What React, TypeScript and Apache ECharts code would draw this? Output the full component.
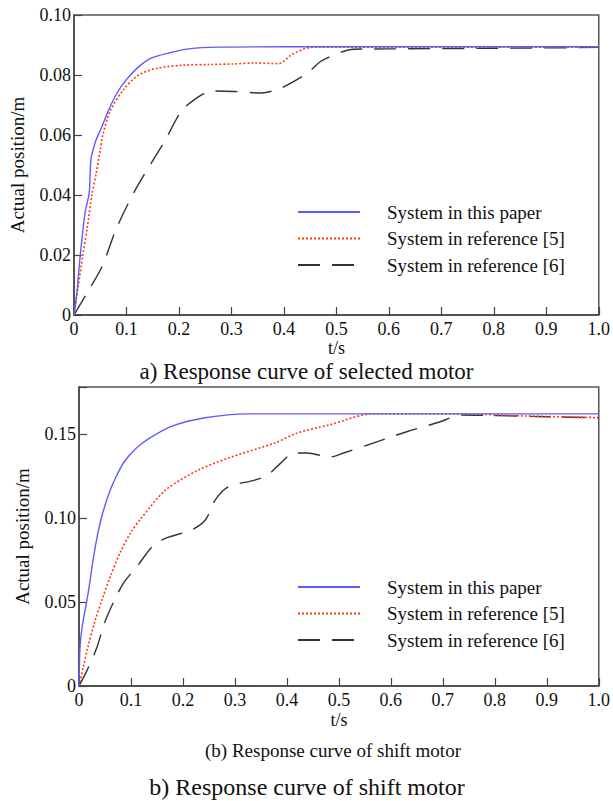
import React, { useEffect, useRef } from "react";
import * as echarts from "echarts";

// ---- Chart a) selected motor ----
const T_A_PAPER = [0, 0.006, 0.012, 0.021, 0.029, 0.031, 0.033, 0.042, 0.053, 0.066, 0.082, 0.099, 0.123, 0.148, 0.18, 0.218, 0.275, 0.4, 0.6, 0.8, 1.0];
const Y_A_PAPER = [0, 0.0083, 0.02, 0.034, 0.0407, 0.048, 0.0527, 0.0583, 0.0627, 0.0683, 0.074, 0.0783, 0.0827, 0.0857, 0.0873, 0.0887, 0.0893, 0.0894, 0.0894, 0.0894, 0.0894];

const T_A_REF5 = [0, 0.008, 0.017, 0.026, 0.034, 0.042, 0.05, 0.055, 0.069, 0.094, 0.123, 0.16, 0.21, 0.26, 0.306, 0.344, 0.39, 0.414, 0.44, 0.457, 0.6, 0.8, 1.0];
const Y_A_REF5 = [0, 0.0095, 0.02, 0.03, 0.04, 0.047, 0.055, 0.06, 0.068, 0.075, 0.08, 0.0823, 0.0833, 0.0835, 0.0837, 0.084, 0.0838, 0.0867, 0.0888, 0.0893, 0.0893, 0.0893, 0.0893];

const T_A_REF6 = [0, 0.028, 0.053, 0.082, 0.12, 0.173, 0.205, 0.237, 0.262, 0.306, 0.357, 0.395, 0.433, 0.452, 0.47, 0.509, 0.533, 0.6, 0.8, 1.0];
const Y_A_REF6 = [0, 0.0083, 0.016, 0.0293, 0.0427, 0.058, 0.068, 0.0727, 0.0747, 0.0745, 0.074, 0.0757, 0.0793, 0.0817, 0.0845, 0.0876, 0.0886, 0.0887, 0.0889, 0.0892];

// ---- Chart b) shift motor ----
const T_B_PAPER = [0, 0.002, 0.006, 0.0146, 0.019, 0.028, 0.036, 0.043, 0.05, 0.06, 0.072, 0.087, 0.11, 0.135, 0.179, 0.243, 0.325, 0.5, 0.7, 1.0];
const Y_B_PAPER = [0, 0.0232, 0.035, 0.05, 0.058, 0.0768, 0.0905, 0.1, 0.1075, 0.1165, 0.125, 0.1335, 0.1415, 0.1474, 0.1547, 0.1597, 0.162, 0.162, 0.162, 0.162];

const T_B_REF5 = [0, 0.008, 0.017, 0.03, 0.045, 0.06, 0.08, 0.1, 0.12, 0.167, 0.23, 0.293, 0.376, 0.42, 0.48, 0.566, 0.65, 0.74, 0.85, 1.0];
const Y_B_REF5 = [0, 0.011, 0.023, 0.038, 0.052, 0.065, 0.08, 0.0915, 0.1, 0.1167, 0.1286, 0.1363, 0.1446, 0.1506, 0.1553, 0.162, 0.162, 0.162, 0.1608, 0.1598];

const T_B_REF6 = [0, 0.015, 0.034, 0.049, 0.068, 0.085, 0.1, 0.116, 0.141, 0.167, 0.217, 0.243, 0.262, 0.287, 0.338, 0.363, 0.388, 0.414, 0.439, 0.483, 0.509, 0.566, 0.629, 0.692, 0.737, 0.8, 0.9, 1.0];
const Y_B_REF6 = [0, 0.009, 0.0226, 0.0375, 0.051, 0.061, 0.067, 0.073, 0.083, 0.088, 0.093, 0.0988, 0.1107, 0.1185, 0.1226, 0.1256, 0.1327, 0.1387, 0.1387, 0.1363, 0.1387, 0.1446, 0.1512, 0.157, 0.1613, 0.161, 0.1603, 0.1597];

const SERIES_NAMES = ["System in this paper", "System in reference [5]", "System in reference [6]"];
const CAPTION_A = "a) Response curve of selected motor";
const CAPTION_B_SMALL = "(b) Response curve of shift motor";
const CAPTION_B = "b) Response curve of shift motor";
const X_NAME = "t/s";
const Y_NAME = "Actual position/m";

const zip = (t: number[], y: number[]) => t.map((v, i) => [v, y[i]]);

const FONT = "'Liberation Serif', 'Times New Roman', serif";
const COLORS = ["#5c5cff", "#ff3a10", "#333333"];
const LINE_TYPES: any[] = ["solid", [2, 2], [22, 12]];

export default function App() {
  const ref = useRef<HTMLDivElement>(null);
  useEffect(() => {
    if (!ref.current) return;
    const chart = echarts.init(ref.current, undefined, { renderer: "svg" });

    const xAxisBase = (gridIndex: number, nameGap: number, labelMargin: number) => ({
      type: "value",
      gridIndex,
      min: 0,
      max: 1,
      interval: 0.1,
      name: X_NAME,
      nameLocation: "middle",
      nameGap,
      nameTextStyle: { fontFamily: FONT, fontSize: 18, color: "#111" },
      axisLine: { show: true, lineStyle: { color: "#444", width: 1.5 } },
      axisTick: { show: true, inside: true, length: 8, lineStyle: { color: "#444", width: 1.2 } },
      axisLabel: {
        fontFamily: FONT,
        fontSize: 18,
        color: "#111",
        margin: labelMargin,
        formatter: (v: number) => (v === 0 ? "0" : v.toFixed(1)),
      },
      splitLine: { show: false },
    });

    const yAxisBase = (gridIndex: number, max: number, interval: number, nameGap: number) => ({
      type: "value",
      gridIndex,
      min: 0,
      max,
      interval,
      name: Y_NAME,
      nameLocation: "middle",
      nameGap,
      nameTextStyle: { fontFamily: FONT, fontSize: 19, color: "#111" },
      axisLine: { show: true, lineStyle: { color: "#444", width: 1.5 } },
      axisTick: { show: true, inside: true, length: 8, lineStyle: { color: "#444", width: 1.2 } },
      axisLabel: {
        fontFamily: FONT,
        fontSize: 18,
        color: "#111",
        margin: 3,
        formatter: (v: number) => {
          if (v === 0) return "0";
          const k = Math.round(v / interval);
          if (Math.abs(k * interval - v) > 1e-9) return "";
          return v.toFixed(2);
        },
      },
      splitLine: { show: false },
    });

    const mk = (name: string, idx: number, data: number[][], axis: number) => ({
      name,
      type: "line",
      xAxisIndex: axis,
      yAxisIndex: axis,
      data,
      symbol: "none",
      showSymbol: false,
      smooth: 0.3,
      lineStyle: { color: COLORS[idx], width: idx === 1 ? 1.6 : 1.4, type: LINE_TYPES[idx] },
      itemStyle: { color: COLORS[idx] },
      z: 3 - idx,
    });

    const legendBase = (top: number) => ({
      orient: "vertical",
      left: 297,
      top,
      padding: 0,
      itemWidth: 62,
      itemHeight: 14,
      itemGap: 6.5,
      data: SERIES_NAMES,
      selectedMode: false,
      itemStyle: { opacity: 0 },
      textStyle: { fontFamily: FONT, fontSize: 19, color: "#111", lineHeight: 20, padding: [0, 0, 0, 22] },
    });

    const option: any = {
      animation: false,
      backgroundColor: "#fff",
      grid: [
        { left: 72, top: 15, width: 527, height: 300, show: true, borderColor: "#555", borderWidth: 1.5, backgroundColor: "transparent" },
        { left: 79, top: 387, width: 526, height: 299, show: true, borderColor: "#555", borderWidth: 1.5, backgroundColor: "transparent" },
      ],
      xAxis: [xAxisBase(0, 24, 5), xAxisBase(1, 25, 5)],
      yAxis: [yAxisBase(0, 0.1, 0.02, 47), yAxisBase(1, 0.178, 0.05, 47)],
      legend: [legendBase(202), legendBase(577)],
      series: [
        mk(SERIES_NAMES[0], 0, zip(T_A_PAPER, Y_A_PAPER), 0),
        mk(SERIES_NAMES[1], 1, zip(T_A_REF5, Y_A_REF5), 0),
        mk(SERIES_NAMES[2], 2, zip(T_A_REF6, Y_A_REF6), 0),
        mk(SERIES_NAMES[0], 0, zip(T_B_PAPER, Y_B_PAPER), 1),
        mk(SERIES_NAMES[1], 1, zip(T_B_REF5, Y_B_REF5), 1),
        mk(SERIES_NAMES[2], 2, zip(T_B_REF6, Y_B_REF6), 1),
      ],
      graphic: [
        {
          type: "text",
          left: "center",
          top: 360,
          style: { text: CAPTION_A, font: `23px ${FONT}`, fill: "#111" },
        },
        {
          type: "text",
          x: 333,
          y: 750,
          style: { text: CAPTION_B_SMALL, font: `19px ${FONT}`, fill: "#111", align: "center", verticalAlign: "middle" },
        },
        {
          type: "text",
          x: 307,
          y: 787,
          style: { text: CAPTION_B, font: `24px ${FONT}`, fill: "#111", align: "center", verticalAlign: "middle" },
        },
      ],
    };
    chart.setOption(option);
    return () => chart.dispose();
  }, []);
  return (
    <div
      ref={ref}
      style={{ position: "absolute", left: 0, top: 0, width: 613, height: 801, background: "#fff" }}
    />
  );
}
